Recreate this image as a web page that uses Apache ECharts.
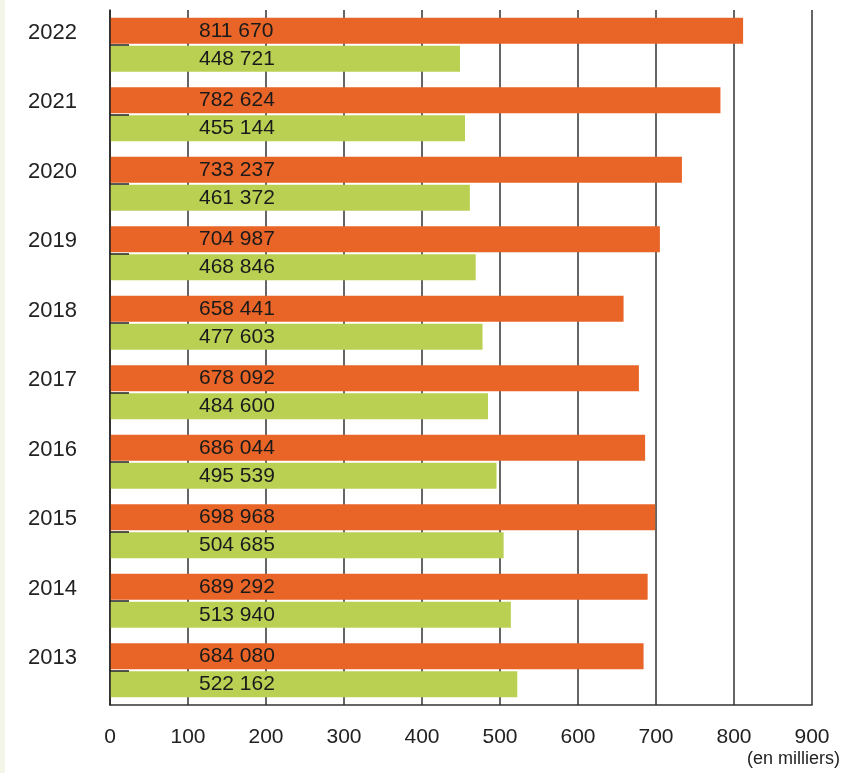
<!DOCTYPE html>
<html>
<head>
<meta charset="utf-8">
<script src="https://cdn.jsdelivr.net/npm/echarts@6/dist/echarts.min.js"></script>
<style>
html,body{margin:0;padding:0;background:#fff;}
#chart{width:851px;height:773px;}
</style>
</head>
<body>
<div id="chart"></div>
<script>
const categories = ['2022','2021','2020','2019','2018','2017','2016','2015','2014','2013'];
const orangeValues = [811670, 782624, 733237, 704987, 658441, 678092, 686044, 698968, 689292, 684080];
const greenValues = [448721, 455144, 461372, 468846, 477603, 484600, 495539, 504685, 513940, 522162];
const xTicks = [0,100,200,300,400,500,600,700,800,900];
const unitLabel = '(en milliers)';

const FONT = 'Liberation Sans, Arial, Helvetica, sans-serif';
function fmt(v){ return String(v).replace(/\B(?=(\d{3})+(?!\d))/g, ' '); }

const chart = echarts.init(document.getElementById('chart'));
const labelCfg = {
  show: true,
  position: [89, '50%'],
  align: 'left',
  verticalAlign: 'middle',
  fontFamily: FONT,
  fontSize: 21,
  color: '#1a1a1a',
  formatter: p => fmt(p.value)
};
chart.setOption({
  animation: false,
  backgroundColor: '#ffffff',
  grid: { left: 110, right: 39, top: 10, bottom: 68, containLabel: false },
  xAxis: {
    type: 'value',
    min: 0, max: 900000, interval: 100000,
    z: 0,
    axisLine: { show: true, lineStyle: { color: '#333', width: 1.5 } },
    axisTick: { show: false },
    splitLine: { show: true, lineStyle: { color: '#333', width: 1.5 } },
    axisLabel: {
      margin: 22,
      fontFamily: FONT, fontSize: 21, color: '#222',
      formatter: v => String(xTicks[Math.round(v/100000)])
    }
  },
  yAxis: {
    type: 'category',
    data: categories,
    inverse: true,
    z: 3,
    axisLine: { show: true, lineStyle: { color: '#222', width: 1.5 } },
    axisTick: { show: true, inside: true, alignWithLabel: true, length: 19, lineStyle: { color: '#222', width: 1.5 } },
    splitLine: { show: false },
    axisLabel: {
      margin: 33,
      fontFamily: FONT, fontSize: 22, color: '#222',
      lineHeight: 24,
      align: 'right',
      formatter: v => v + '\n '
    }
  },
  series: [
    { type: 'bar', data: orangeValues, barWidth: 26, barGap: '8%', itemStyle: { color: '#e96427' }, label: labelCfg },
    { type: 'bar', data: greenValues, barWidth: 26, barGap: '8%', itemStyle: { color: '#bad053' }, label: labelCfg }
  ],
  graphic: [
    { type: 'rect', left: 0, top: 0, shape: { width: 5, height: 773 }, style: { fill: '#f3f5e8' } },
    { type: 'text', right: 11, top: 750, style: { text: unitLabel, fontFamily: FONT, fontSize: 18, fill: '#222' } }
  ]
});
</script>
</body>
</html>
